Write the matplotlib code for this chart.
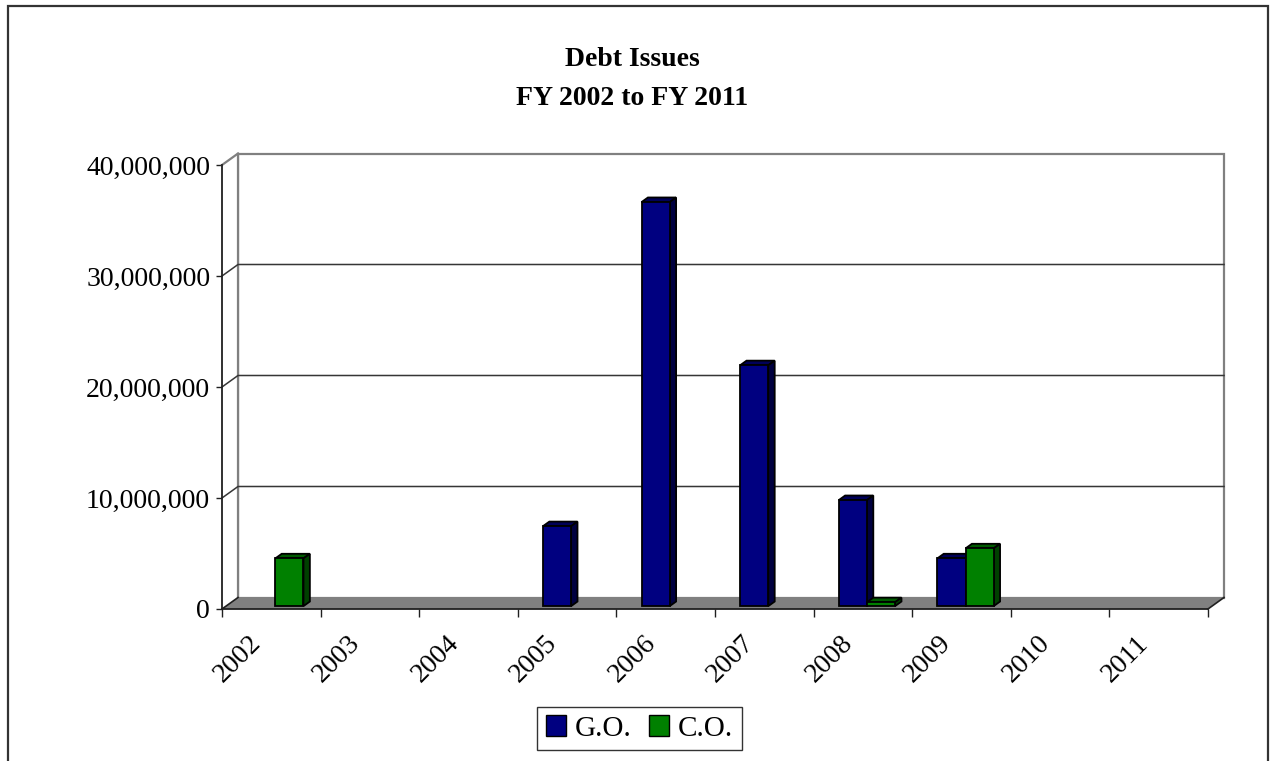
import numpy as np
import matplotlib
matplotlib.use("Agg")
import matplotlib.pyplot as plt
from matplotlib.patches import Polygon, Rectangle, Patch
from matplotlib.ticker import FuncFormatter

# Data
years = ["2002", "2003", "2004", "2005", "2006", "2007", "2008", "2009", "2010", "2011"]
go_values = [np.nan, np.nan, np.nan, 7.2e6, 36.4e6, 21.7e6, 9.55e6, 4.3e6, np.nan, np.nan]
co_values = [4.3e6, np.nan, np.nan, np.nan, np.nan, np.nan, 0.35e6, 5.2e6, np.nan, np.nan]
series_names = ["G.O.", "C.O."]
title_lines = ["Debt Issues", "FY 2002 to FY 2011"]
y_ticks = [0, 10e6, 20e6, 30e6, 40e6]

plt.rcParams["font.family"] = ["Liberation Serif", "DejaVu Serif"]

W, H, DPI = 1275, 761, 100
fig = plt.figure(figsize=(W / DPI, H / DPI), dpi=DPI)

# front plane of the 3-D box
left_px, right_px, zero_px, top_px = 222, 1208, 609, 165
ax = fig.add_axes([left_px / W, 1 - zero_px / H,
                   (right_px - left_px) / W, (zero_px - top_px) / H])
n = len(years)
ymax = y_ticks[-1]
ax.set_xlim(0, n)
ax.set_ylim(0, ymax)
ax.patch.set_visible(False)

# depth of the box in data units
px_per_cat = (right_px - left_px) / n
px_per_val = (zero_px - top_px) / ymax
DX = 16 / px_per_cat
DY = 11.5 / px_per_val

wall_gray = "#808080"
grid_col = "#363636"

# back wall and left side wall
ax.add_patch(Rectangle((DX, DY), n, ymax, facecolor="white", edgecolor=wall_gray,
                       lw=1.6, clip_on=False, zorder=1))
ax.add_patch(Polygon([(0, 0), (DX, DY), (DX, ymax + DY), (0, ymax)], closed=True,
                     facecolor="white", edgecolor="none", clip_on=False, zorder=1))
ax.plot([0, DX], [ymax, ymax + DY], color=wall_gray, lw=1.6, clip_on=False, zorder=2)
ax.plot([DX, DX], [DY, ymax + DY], color=wall_gray, lw=1.6, clip_on=False, zorder=2)

# gridlines along the walls
for v in y_ticks[1:-1]:
    ax.plot([0, DX, n + DX], [v, v + DY, v + DY], color=grid_col, lw=1.1,
            clip_on=False, zorder=2)

# floor
ax.add_patch(Polygon([(0, 0), (n, 0), (n + DX, DY), (DX, DY)], closed=True,
                     facecolor=wall_gray, edgecolor="none", clip_on=False, zorder=3))
ax.plot([0, DX], [0, DY], color="#202020", lw=1.2, clip_on=False, zorder=3)
ax.plot([n, n + DX], [0, DY], color="#202020", lw=1.2, clip_on=False, zorder=3)

# bars
bar_w = 1 / 3.5
zf, zb = 0.25, 0.65
colors = {
    "G.O.": ("#000080", "#000058", "#000040"),
    "C.O.": ("#008000", "#005a00", "#004000"),
}
series = [("G.O.", go_values, -bar_w), ("C.O.", co_values, 0.0)]
z = 5
for i in range(n):
    for name, vals, off in series:
        v = vals[i]
        if np.isnan(v):
            continue
        front, top, side = colors[name]
        x0 = i + 0.5 + off
        x1 = x0 + bar_w
        ax.bar(x0 + zf * DX, v, width=bar_w, bottom=zf * DY, align="edge",
               color=front, edgecolor="black", lw=1.3, zorder=z, clip_on=False)
        ax.add_patch(Polygon([(x0 + zf * DX, v + zf * DY), (x1 + zf * DX, v + zf * DY),
                              (x1 + zb * DX, v + zb * DY), (x0 + zb * DX, v + zb * DY)],
                             closed=True, facecolor=top, edgecolor="black", lw=1.3,
                             zorder=z - 0.5, clip_on=False))
        ax.add_patch(Polygon([(x1 + zf * DX, zf * DY), (x1 + zb * DX, zb * DY),
                              (x1 + zb * DX, v + zb * DY), (x1 + zf * DX, v + zf * DY)],
                             closed=True, facecolor=side, edgecolor="black", lw=1.3,
                             zorder=z - 0.5, clip_on=False))
        z += 1

# axes lines and ticks
for s in ["top", "right"]:
    ax.spines[s].set_visible(False)
for s in ["left", "bottom"]:
    ax.spines[s].set_color("#202020")
    ax.spines[s].set_linewidth(1.3)
    ax.spines[s].set_zorder(40)
ax.set_yticks(y_ticks)
ax.yaxis.set_major_formatter(FuncFormatter(lambda v, p: f"{int(v):,}"))
ax.tick_params(axis="y", direction="out", length=4.5, width=1.0, color="#202020",
               labelsize=20, pad=4)
ax.set_xticks(np.arange(n + 1))
ax.set_xticklabels([])
ax.tick_params(axis="x", direction="out", length=6, width=1.0, color="#202020")

# category labels, rotated
for i, lab in enumerate(years):
    ax.text(i + 0.5 - 0.14, -2.75e6, lab, rotation=45, ha="right", va="center",
            rotation_mode="anchor", fontsize=20, clip_on=False)

# title
fig.text(632 / W, 1 - 66 / H, title_lines[0], ha="center", va="baseline",
         fontsize=20, fontweight="bold")
fig.text(632 / W, 1 - 105 / H, title_lines[1], ha="center", va="baseline",
         fontsize=20, fontweight="bold")

# legend
handles = [Patch(facecolor=colors[nm][0], edgecolor="black", lw=1.0) for nm in series_names]
leg = fig.legend(handles, series_names, loc="center", bbox_to_anchor=(639.5 / W, 1 - 728.5 / H),
                 ncol=2, fontsize=21, frameon=True, fancybox=False, framealpha=1,
                 edgecolor="#333333", handlelength=0.7, handleheight=0.7,
                 handletextpad=0.3, columnspacing=0.6, borderpad=0.3, borderaxespad=0)
leg.get_frame().set_linewidth(1.0)

# chart border
fig.add_artist(Rectangle((8 / W, -0.05), 1260 / W, 1 - 6 / H + 0.05,
                         transform=fig.transFigure, facecolor="none",
                         edgecolor="#333333", lw=1.6))

fig.savefig("out.png", dpi=DPI)
